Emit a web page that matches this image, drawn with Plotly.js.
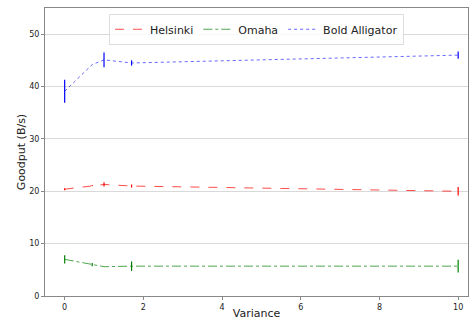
<!DOCTYPE html>
<html><head><meta charset="utf-8">
<script src="https://cdn.plot.ly/plotly-3.0.1.min.js"></script>
<style>html,body{margin:0;padding:0;background:#fff}#c{width:469px;height:320px}</style>
</head><body><div id="c"></div>
<script>
const xVals = [0, 0.7, 1, 1.7, 10];
const helsinki = [20.4, 21.1, 21.3, 21.0, 20.0];
const helsinkiErr = [0.2, 0.1, 0.4, 0.3, 0.8];
const omaha = [7.0, 6.0, 5.6, 5.7, 5.7];
const omahaErr = [0.8, 0.3, 0.0, 0.9, 1.2];
const bold = [39.1, 44.2, 45.1, 44.5, 46.0];
const boldErr = [2.2, 0.0, 1.4, 0.5, 0.7];
const xTicks = [0, 2, 4, 6, 8, 10];
const yTicks = [0, 10, 20, 30, 40, 50];

function tr(name, y, err, col, rgba, dash) {
  return {
    x: xVals, y: y, name: name, type: 'scatter', mode: 'lines',
    line: {color: rgba, width: 1, dash: dash},
    error_y: {type: 'data', array: err, visible: true, color: col, thickness: 1.2, width: 0}
  };
}
const data = [
  tr('Helsinki', helsinki, helsinkiErr, '#ff0000', 'rgba(255,0,0,0.7)', 'dash'),
  tr('Omaha', omaha, omahaErr, '#008000', 'rgba(0,128,0,0.7)', 'dashdot'),
  tr('Bold Alligator', bold, boldErr, '#0000ff', 'rgba(0,0,255,0.6)', 'dot')
];
const layout = {
  width: 469, height: 320,
  margin: {l: 45, r: 1, t: 8, b: 24},
  paper_bgcolor: '#fff', plot_bgcolor: '#fff',
  font: {family: 'DejaVu Sans', color: '#222'},
  showlegend: true,
  legend: {orientation: 'h', x: 0.5, xanchor: 'center', y: 0.98, yanchor: 'top',
    bordercolor: '#ddd', borderwidth: 1, bgcolor: 'rgba(255,255,255,0.8)',
    itemwidth: 30,
    font: {size: 11, family: 'DejaVu Sans'}},
  xaxis: {range: [-0.5, 10.25], tickvals: xTicks, ticktext: xTicks.map(String),
    showgrid: false, zeroline: false, showline: true, linecolor: '#888', linewidth: 1, mirror: true,
    ticks: 'outside', ticklen: 3, tickcolor: '#888', tickfont: {size: 8},
    title: {text: 'Variance', font: {size: 11}, standoff: 2}},
  yaxis: {range: [0, 55], tickvals: yTicks, ticktext: yTicks.map(String),
    showgrid: true, gridcolor: '#d9d9d9', gridwidth: 1, zeroline: false,
    showline: true, linecolor: '#888', linewidth: 1, mirror: true,
    ticks: 'outside', ticklen: 3, tickcolor: '#888', tickfont: {size: 8},
    title: {text: 'Goodput (B/s)', font: {size: 11}, standoff: 1}}
};
Plotly.newPlot('c', data, layout, {displayModeBar: false, staticPlot: true});
</script></body></html>
